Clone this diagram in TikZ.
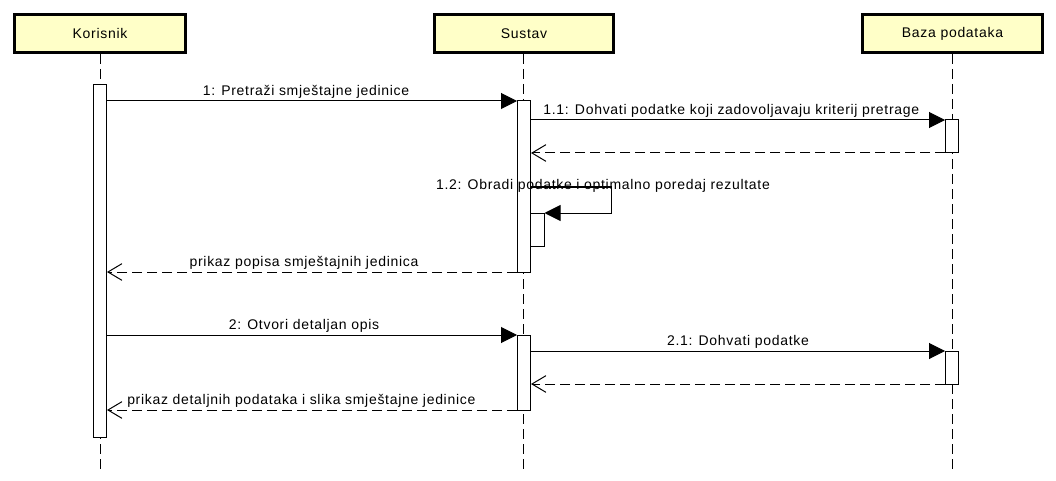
\documentclass[tikz,border=0pt]{standalone}
\usepackage{fontspec}
\setmainfont{Liberation Sans}[LetterSpace=5]
\usetikzlibrary{arrows.meta,fit}
\definecolor{headfill}{RGB}{255,255,200}
\tikzset{
  x=0.75pt, y=-0.75pt,
  every node/.style={font=\fontsize{10.5}{12}\selectfont},
  headbox/.style={draw=black, line width=2.25pt, fill=headfill, minimum height=28.5pt, inner sep=0pt},
  lifeline/.style={line width=0.75pt, dash pattern=on 7.5pt off 3.75pt},
  act/.style={draw=black, line width=0.75pt, fill=white, inner sep=0pt},
  msg/.style={line width=0.75pt, -{Triangle[length=12pt,width=12pt]}},
  ret/.style={line width=0.75pt, dash pattern=on 7.5pt off 3.75pt, -{Straight Barb[length=10.5pt,width=12.5pt,line width=0.75pt]}},
  lbl/.style={anchor=south, inner sep=1.5pt}
}
\begin{document}
\begin{tikzpicture}
\useasboundingbox (0,0) rectangle (1056,481);
% heads
\node[headbox, minimum width=128.25pt] (k) at (100,33.5) {Korisnik};
\node[headbox, minimum width=134.25pt] (s) at (524,33.5) {Sustav};
\node[headbox, minimum width=135pt] (b) at (952.5,33.5) {Baza podataka};
% lifeline ends
\coordinate (kend) at (100,470);
\coordinate (send) at (523.5,470);
\coordinate (bend) at (952,470);
\draw[lifeline] (k.south) -- (k.south|-kend);
\draw[lifeline] (s.south-|send) -- (send);
\draw[lifeline] (b.south-|bend) -- (bend);
% activations
\node[act, fit={(93.5,85) (106.5,437)}] (ka) {};
\node[act, fit={(517.5,101) (530.5,272)}] (sa1) {};
\node[act, fit={(530.5,213) (544,246)}] (sa1b) {};
\node[act, fit={(945.5,120) (958.5,153)}] (ba1) {};
\node[act, fit={(517.5,335) (530.5,410)}] (sa2) {};
\node[act, fit={(945.5,351) (958.5,384)}] (ba2) {};
% messages
\draw[msg] (ka.east|-0,101) -- node[lbl, xshift=-4.5pt]{1: Pretraži smještajne jedinice} (sa1.west|-0,101);
\draw[msg] (sa1.east|-0,120) -- node[lbl, xshift=-5pt]{1.1: Dohvati podatke koji zadovoljavaju kriterij pretrage} (ba1.west|-0,120);
\draw[ret] (ba1.west|-0,153) -- (sa1.east|-0,153);
\coordinate (selfc) at (611,187);
\draw[msg] (sa1.east|-0,187) -- (selfc) -- (selfc|-0,213) -- (sa1b.east|-0,213);
\node[anchor=base, inner sep=0pt] (l12) at (603,190) {1.2: Obradi podatke i optimalno poredaj rezultate};
\draw[ret] (sa1.west|-0,272) -- node[lbl, xshift=-6pt]{prikaz popisa smještajnih jedinica} (ka.east|-0,272);
\draw[msg] (ka.east|-0,335) -- node[lbl, xshift=-6pt]{2: Otvori detaljan opis} (sa2.west|-0,335);
\draw[msg] (sa2.east|-0,351) -- node[lbl]{2.1: Dohvati podatke} (ba2.west|-0,351);
\draw[ret] (ba2.west|-0,384) -- (sa2.east|-0,384);
\draw[ret] (sa2.west|-0,410) -- node[lbl, xshift=-8pt]{prikaz detaljnih podataka i slika smještajne jedinice} (ka.east|-0,410);
\end{tikzpicture}
\end{document}
